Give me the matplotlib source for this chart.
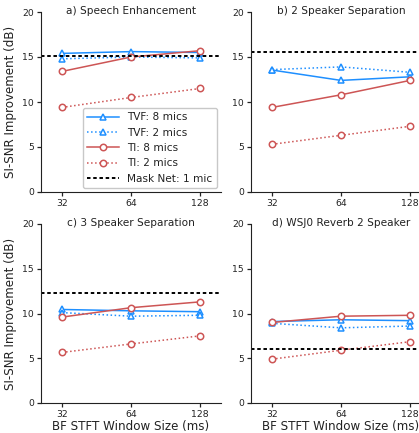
import matplotlib
matplotlib.use("Agg")
import matplotlib.pyplot as plt
import numpy as np

win = [32, 64, 128]

titles = ["a) Speech Enhancement", "b) 2 Speaker Separation",
          "c) 3 Speaker Separation", "d) WSJ0 Reverb 2 Speaker"]

tvf8 = [[15.4, 15.6, 15.5], [13.55, 12.4, 12.8], [10.45, 10.3, 10.2], [9.1, 9.3, 9.2]]
tvf2 = [[14.8, 15.0, 14.9], [13.6, 13.9, 13.3], [10.1, 9.7, 9.8], [8.9, 8.4, 8.6]]
ti8 = [[13.4, 15.0, 15.7], [9.4, 10.8, 12.4], [9.6, 10.65, 11.3], [9.0, 9.7, 9.8]]
ti2 = [[9.4, 10.5, 11.5], [5.3, 6.3, 7.3], [5.65, 6.6, 7.5], [4.9, 5.9, 6.85]]
mask = [15.1, 15.6, 12.3, 6.05]

blue = "#1e8fff"
red = "#cd5555"

plt.rcParams["font.family"] = "DejaVu Sans"
plt.rcParams["axes.edgecolor"] = "#222222"
plt.rcParams["text.color"] = "#222222"
plt.rcParams["xtick.color"] = "#222222"
plt.rcParams["ytick.color"] = "#222222"
plt.rcParams["axes.labelcolor"] = "#222222"

fig = plt.figure(figsize=(4.19, 4.33), dpi=100)
W, H = 419, 433
boxes = [(41, 12, 180, 180), (251, 12, 180, 180),
         (41, 224, 180, 179), (251, 224, 180, 179)]

mk = dict(markersize=4.6, markerfacecolor="white", markeredgewidth=1.1, linewidth=1.1)

for i in range(4):
    x0, y0, w, h = boxes[i]
    ax = fig.add_axes([x0 / W, 1 - (y0 + h) / H, w / W, h / H])
    ax.plot(win, tvf8[i], color=blue, marker="^", linestyle="-", label="TVF: 8 mics", **mk)
    ax.plot(win, tvf2[i], color=blue, marker="^", linestyle=":", label="TVF: 2 mics", **mk)
    ax.plot(win, ti8[i], color=red, marker="o", linestyle="-", label="TI: 8 mics", **mk)
    ax.plot(win, ti2[i], color=red, marker="o", linestyle=":", label="TI: 2 mics", **mk)
    ax.axhline(mask[i], color="black", linestyle=(0, (1.8, 1.4)), linewidth=1.4, label="Mask Net: 1 mic")
    ax.set_xscale("log", base=2)
    ax.set_xlim(25.9, 158)
    ax.set_xticks(win)
    ax.set_xticklabels([str(v) for v in win])
    ax.minorticks_off()
    ax.set_ylim(0, 20)
    ax.set_yticks([0, 5, 10, 15, 20])
    ax.spines["top"].set_visible(False)
    ax.spines["right"].set_visible(False)
    ax.tick_params(labelsize=6.7, length=3, width=0.9, pad=2)
    ax.set_title(titles[i], fontsize=7.6, y=0.99, pad=0)
    if i % 2 == 0:
        ax.set_ylabel("SI-SNR Improvement (dB)", fontsize=8.6, labelpad=4)
    if i >= 2:
        ax.set_xlabel("BF STFT Window Size (ms)", fontsize=8.6, labelpad=0.5)
    if i == 0:
        ax.legend(loc="lower right", fontsize=7.6, handlelength=3.0,
                  borderaxespad=0.4, labelspacing=0.5, edgecolor="#bbbbbb")

fig.savefig("out.png", dpi=100)
